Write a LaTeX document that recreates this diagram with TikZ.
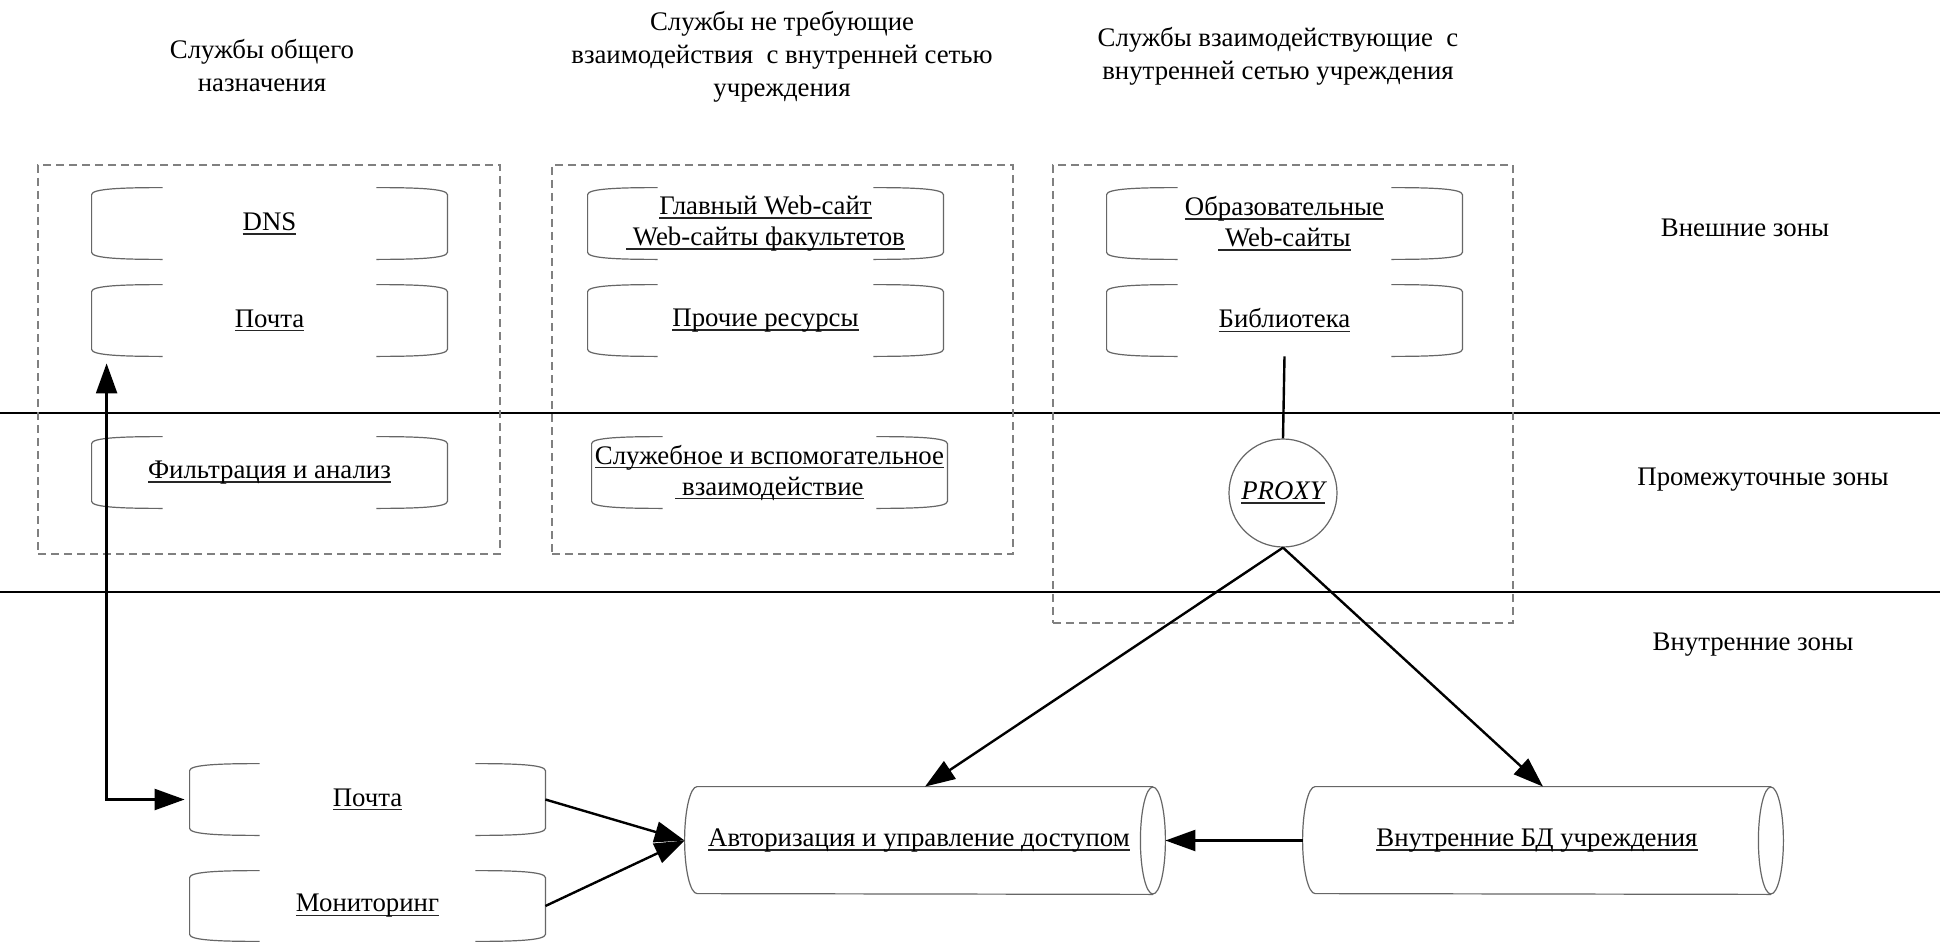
\documentclass[tikz,border=0pt]{standalone}
\usepackage{fontspec}
\setmainfont{Liberation Serif}
\usetikzlibrary{arrows.meta,calc}

\newcommand\ulx[1]{\leavevmode\setbox0\hbox{#1}\rlap{\color{black!85}\rule[-2.2pt]{\wd0}{0.8pt}}\box0}

\newcommand\brk[2]{%
\draw[shp] ($(#1.north west)+(#2,0)$) .. controls ($(#1.north west)+(#2*0.45,0)$) and ($(#1.north west)+(0,1)$) .. ($(#1.north west)+(0,7)$) -- ($(#1.south west)+(0,-7)$) .. controls ($(#1.south west)+(0,-1)$) and ($(#1.south west)+(#2*0.45,0)$) .. ($(#1.south west)+(#2,0)$);
\draw[shp] ($(#1.north east)+(-#2,0)$) .. controls ($(#1.north east)+(-#2*0.45,0)$) and ($(#1.north east)+(0,1)$) .. ($(#1.north east)+(0,7)$) -- ($(#1.south east)+(0,-7)$) .. controls ($(#1.south east)+(0,-1)$) and ($(#1.south east)+(-#2*0.45,0)$) .. ($(#1.south east)+(-#2,0)$);
}

\newcommand\cyl[1]{%
\draw[shp] ($(#1.north east)+(-12.5,0)$) -- ($(#1.north west)+(12.5,0)$) arc[start angle=90,end angle=270,x radius=6.25pt,y radius=26.75pt] -- ($(#1.south east)+(-12.5,0)$);
\draw[shp] ($(#1.east)+(-12.5,0)$) ellipse[x radius=6.25pt,y radius=26.75pt];
}

\tikzset{
 shp/.style={draw=black!60, line width=0.6pt},
 pxbox/.style n args={4}{at={({(#1+#3)/2},{(#2+#4)/2})}, minimum width={(#3-#1)*0.5pt}, minimum height={(#4-#2)*0.5pt}},
 svc/.style={inner sep=0pt, font=\fontsize{13.4}{15.5}\selectfont, align=center},
 dbox/.style={draw=black!50, dash pattern=on 4pt off 2.5pt, line width=0.6pt, inner sep=0pt},
 zline/.style={line width=1.2pt},
 conn/.style={line width=1.2pt},
 arr/.style={conn, -{Triangle[length=15pt,width=10.5pt]}},
 lbl/.style={font=\fontsize{13.4}{16.5}\selectfont, align=center, inner sep=0pt},
}

\begin{document}
\begin{tikzpicture}[x=0.5pt,y=-0.5pt]
\path[fill=white,use as bounding box] (0,0) rectangle (1940,942);

% zone lines
\draw[zline] (0,413) -- (1940,413);
\draw[zline] (0,592) -- (1940,592);

% dashed groups
\node[dbox, pxbox={38}{165}{500}{554}] (box1) {};
\node[dbox, pxbox={552}{165}{1013}{554}] (box2) {};
\node[dbox, pxbox={1053}{165}{1513}{623}] (box3) {};

% headers
\node[lbl] (h1) at (262,66) {Службы общего\\назначения};
\node[lbl] (h2) at (782,57) {Службы не требующие\\взаимодействия\ \ с внутренней сетью\\учреждения};
\node[lbl] (h3) at (1278,56) {Службы взаимодействующие\ \ с\\внутренней сетью учреждения};

% zone labels
\node[lbl] (z1) at (1745,228) {Внешние зоны};
\node[lbl] (z2) at (1763,480) {Промежуточные зоны};
\node[lbl] (z3) at (1753,645) {Внутренние зоны};

% column 1
\node[svc, pxbox={92}{188}{447}{259}] (dns) {\ulx{DNS}};
\node[svc, pxbox={92}{285}{447}{356}] (mailE) {\ulx{Почта}};
\node[svc, pxbox={92}{437}{447}{508}] (filt) {\ulx{Фильтрация и анализ}};
\brk{dns}{71}\brk{mailE}{71}\brk{filt}{71}

% column 2
\node[svc, pxbox={588}{188}{943}{259}] (web) {\ulx{Главный Web-сайт}\\\ulx{\ Web-сайты факультетов}};
\node[svc, pxbox={588}{285}{943}{356}] (other) {\ulx{Прочие ресурсы}};
\node[svc, pxbox={592}{437}{947}{508}] (aux) {\ulx{Служебное и вспомогательное}\\\ulx{\ взаимодействие}};
\brk{web}{70}\brk{other}{70}\brk{aux}{71}

% column 3
\node[svc, pxbox={1107}{188}{1462}{259}] (edu) {\ulx{Образовательные}\\\ulx{\ Web-сайты}};
\node[svc, pxbox={1107}{285}{1462}{356}] (lib) {\ulx{Библиотека}};
\brk{edu}{71}\brk{lib}{71}

\node[circle, shp, minimum size=54pt, inner sep=0pt, font=\fontsize{13.4}{15.5}\selectfont\itshape] (proxy) at (1283,493) {\ulx{PROXY}};

% internal zone
\node[svc, pxbox={190}{764}{545}{835}] (mailI) {\ulx{Почта}};
\node[svc, pxbox={190}{871}{545}{941}] (mon) {\ulx{Мониторинг}};
\brk{mailI}{70}\brk{mon}{70}

\node[svc, pxbox={685}{787}{1165}{894}] (auth) {\hspace*{-6pt}\ulx{Авторизация и управление доступом}};
\node[svc, pxbox={1303}{787}{1783}{894}] (db) {\hspace*{-6pt}\ulx{Внутренние БД учреждения}};
\cyl{auth}\cyl{db}

% connectors
\draw[conn] (lib.south) -- (proxy.north);
\draw[arr] (proxy.south) -- (auth.north);
\draw[arr] (proxy.south) -- (db.north);
\draw[arr] (mailI.east) -- (auth.west);
\draw[arr] (mon.east) -- (auth.west);
\draw[arr] (db.west) -- (auth.east);
\draw[conn, {Triangle[length=15pt,width=10.5pt]}-{Triangle[length=15pt,width=10.5pt]}, shorten >=2.5pt] ($(mailE.south west)+(15,7)$) |- (mailI.west);
\end{tikzpicture}
\end{document}
